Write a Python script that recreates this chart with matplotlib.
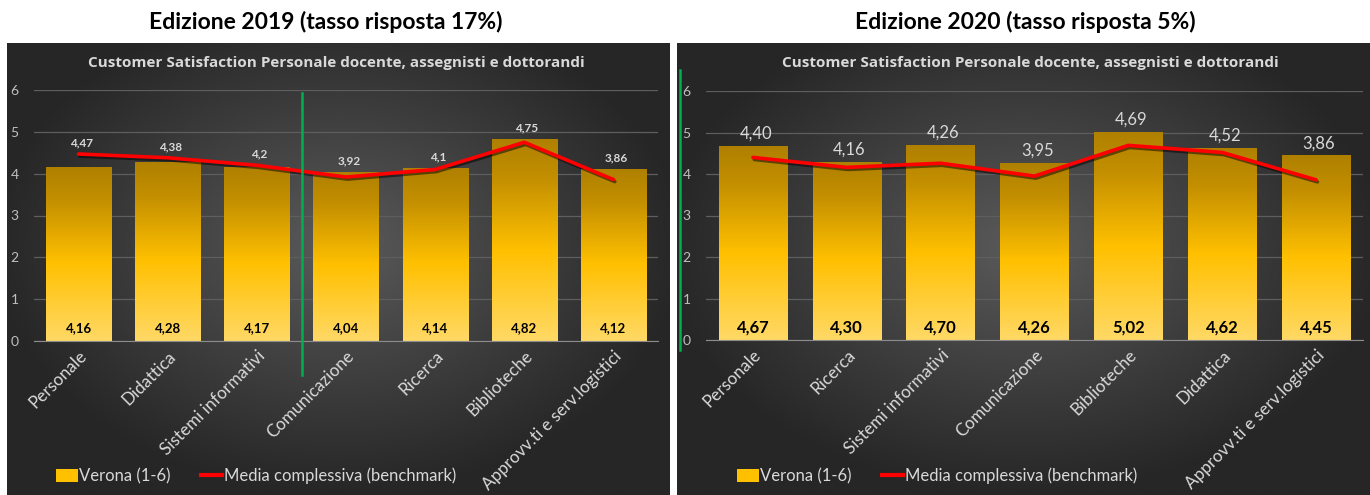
import numpy as np
import matplotlib.pyplot as plt
import matplotlib.patheffects as pe
from matplotlib.colors import LinearSegmentedColormap
from matplotlib.lines import Line2D
from matplotlib.patches import Patch

plt.rcParams['font.family'] = ['Lato', 'DejaVu Sans']

# 2019 survey
cat_2019 = ['Personale', 'Didattica', 'Sistemi informativi', 'Comunicazione',
            'Ricerca', 'Biblioteche', 'Approvv.ti e serv.logistici']
verona_2019 = [4.16, 4.28, 4.17, 4.04, 4.14, 4.82, 4.12]
media_2019 = [4.47, 4.38, 4.2, 3.92, 4.1, 4.75, 3.86]

# 2020 survey
cat_2020 = ['Personale', 'Ricerca', 'Sistemi informativi', 'Comunicazione',
            'Biblioteche', 'Didattica', 'Approvv.ti e serv.logistici']
verona_2020 = [4.67, 4.30, 4.70, 4.26, 5.02, 4.62, 4.45]
media_2020 = [4.40, 4.16, 4.26, 3.95, 4.69, 4.52, 3.86]

W, H = 1370, 495
fig = plt.figure(figsize=(W / 100, H / 100), dpi=100)
fig.patch.set_facecolor('white')

bar_cmap = LinearSegmentedColormap.from_list(
    'gold', [(0, '#FFD966'), (0.45, '#FFC000'), (0.8, '#C49000'), (1, '#AF8000')])
bg_cmap = LinearSegmentedColormap.from_list('bg', ['#262626', '#5a5a5a'])
LIGHT = '#d9d9d9'


def px(x0, y0, x1, y1):
    # pixel box (top-left origin) -> figure fraction rect
    return [x0 / W, 1 - y1 / H, (x1 - x0) / W, (y1 - y0) / H]


def background(rect):
    bg = fig.add_axes(px(*rect), zorder=0)
    xx, yy = np.meshgrid(np.linspace(-1, 1, 300), np.linspace(-1, 1, 200))
    r = np.sqrt((xx / 1.05) ** 2 + ((yy + 0.1) / 1.1) ** 2)
    bg.imshow(np.clip(1 - r, 0, 1), cmap=bg_cmap, aspect='auto',
              extent=[0, 1, 0, 1], vmin=0, vmax=1)
    bg.axis('off')


def panel(rect, cats, bars, line, fmt_line, big, leg_x):
    ax = fig.add_axes(px(*rect), zorder=2)
    ax.patch.set_alpha(0)
    x = np.arange(len(cats))
    rects = ax.bar(x, bars, width=0.73, color='none', zorder=2)
    grad = np.linspace(0, 1, 256).reshape(-1, 1)
    for rc in rects:
        x0, w, h = rc.get_x(), rc.get_width(), rc.get_height()
        im = ax.imshow(grad, cmap=bar_cmap, origin='lower', aspect='auto',
                       extent=[x0, x0 + w, 0, h], zorder=2)
        im.set_clip_path(rc)
    ax.plot(x, line, color='#FF0000', lw=2.6, zorder=4, solid_capstyle='round',
            path_effects=[pe.SimpleLineShadow(offset=(1, -1.5), shadow_color='black', alpha=0.5),
                          pe.Normal()])

    bar_fs = 12 if big else 9.5
    line_fs = 12 if big else 8.5
    for xi, b, m in zip(x, bars, line):
        ax.text(xi, 0.3, f'{b:.2f}'.replace('.', ','), ha='center', va='center',
                fontsize=bar_fs, fontweight='bold', color='black', zorder=5)
        ax.annotate(fmt_line(m).replace('.', ','), (xi, max(b, m)),
                    xytext=(2, 3 if big else 4), textcoords='offset points',
                    ha='center', va='bottom', fontsize=line_fs, color=LIGHT,
                    fontweight='normal' if big else 'bold', zorder=5)

    ax.set_xlim(-0.5, len(cats) - 0.5)
    ax.set_ylim(0, 6)
    ax.set_yticks(range(7))
    ax.grid(axis='y', color='#5e5e5e', lw=0.9)
    ax.set_axisbelow(True)
    for s in ['top', 'right', 'left']:
        ax.spines[s].set_visible(False)
    ax.spines['bottom'].set_color('#8c8c8c')
    ax.tick_params(axis='y', length=0, pad=11, labelsize=10, labelcolor='#bfbfbf')
    ax.tick_params(axis='x', length=0, pad=5)
    ax.set_xticks(x)
    ax.set_xticklabels(cats, rotation=45, ha='right', rotation_mode='anchor',
                       fontsize=12.3, color=LIGHT)

    handles = [Patch(facecolor='#FFC000', edgecolor='none'),
               Line2D([0], [0], color='#FF0000', lw=3)]
    ax.legend(handles, ['Verona (1-6)', 'Media complessiva (benchmark)'],
              loc='center left', bbox_to_anchor=(leg_x / W, 1 - 476 / H),
              bbox_transform=fig.transFigure, ncol=2, frameon=False,
              handlelength=1.3, handleheight=0.9, handletextpad=0.1,
              columnspacing=1.8, fontsize=12, labelcolor=LIGHT, borderaxespad=0,
              borderpad=0)
    return ax


background((7, 43, 670, 495))
background((677, 43, 1370, 495))

panel((34, 90, 658, 341), cat_2019, verona_2019, media_2019,
      lambda v: f'{v:g}', big=False, leg_x=56)
panel((706, 91, 1363, 340), cat_2020, verona_2020, media_2020,
      lambda v: f'{v:.2f}', big=True, leg_x=737)

# section titles
fig.text(326 / W, 1 - 22 / H, 'Edizione 2019 (tasso risposta 17%)', ha='center', va='center',
         fontsize=16.5, fontweight='bold', color='black')
fig.text(1025 / W, 1 - 22 / H, 'Edizione 2020 (tasso risposta 5%)', ha='center', va='center',
         fontsize=16.5, fontweight='bold', color='black')
for cx in (336, 1030):
    fig.text(cx / W, 1 - 63 / H, 'Customer Satisfaction Personale docente, assegnisti e dottorandi',
             ha='center', va='center', fontsize=11, fontweight='bold', color=LIGHT,
             family=['Open Sans', 'DejaVu Sans'], zorder=5)

# green separator lines
fig.add_artist(Line2D([302 / W] * 2, [1 - 93 / H, 1 - 375 / H], color='#00B050', lw=1.8, zorder=6))
fig.add_artist(Line2D([680 / W] * 2, [1 - 70 / H, 1 - 350 / H], color='#00B050', lw=1.8, zorder=6))

fig.savefig('out.png', dpi=100, facecolor='white')
